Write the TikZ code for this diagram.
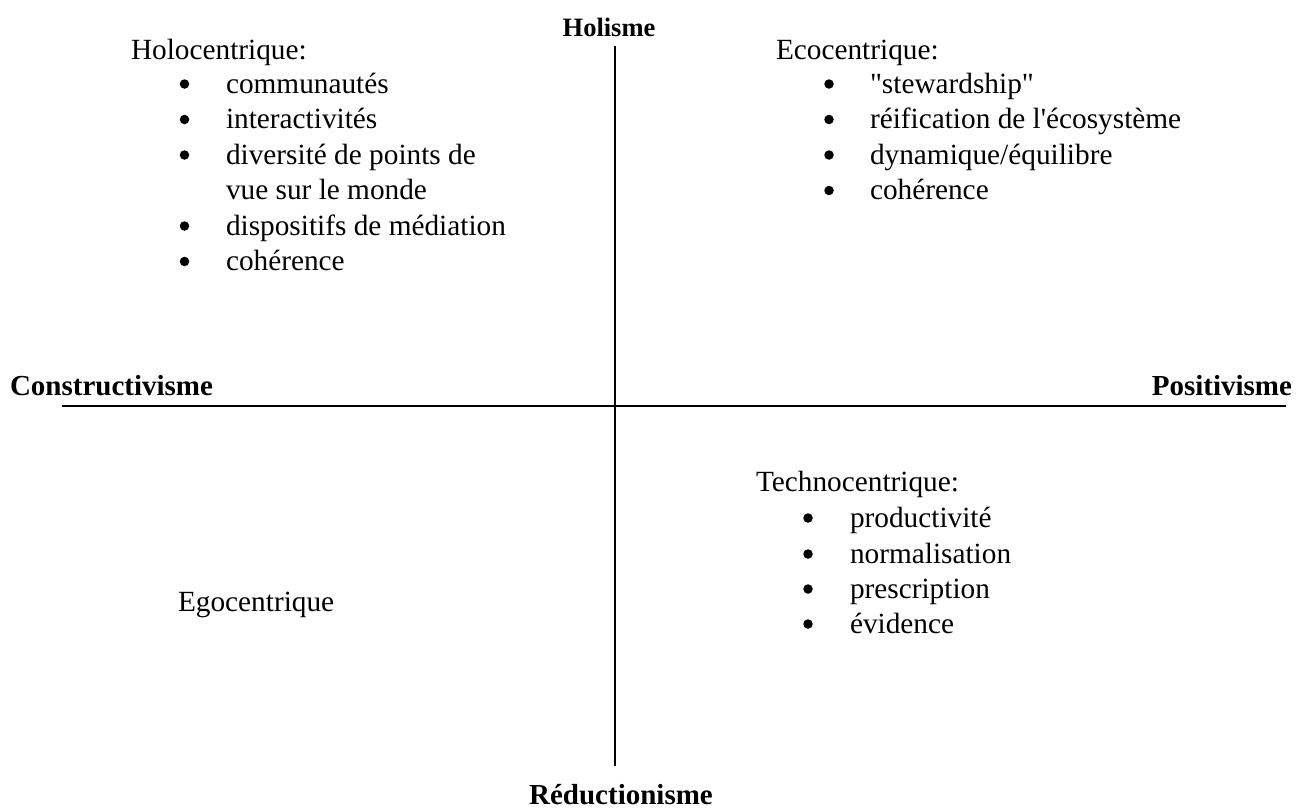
\documentclass[tikz,border=0pt]{standalone}
\usepackage{fontspec}
\setmainfont{Liberation Serif}[Ligatures=TeXOff]
\begin{document}
\begin{tikzpicture}[x=1pt,y=-1pt,
  txt/.style={inner sep=0pt,outer sep=0pt,anchor=base west,font=\fontsize{29.3}{35}\selectfont},
  bul/.style={circle,fill=black,draw=none,inner sep=0pt,minimum size=9.5pt},
  axislabel/.style={inner sep=0pt,outer sep=0pt,font=\bfseries\fontsize{29}{35}\selectfont},
  axisline/.style={draw=black,line width=1.7pt}]
\useasboundingbox (0,0) rectangle (1297,809);
% axes
\coordinate (vtop) at (615,46);
\coordinate (vbot) at (615,766);
\coordinate (hleft) at (62,406);
\coordinate (hright) at (1286,406);
\draw[axisline,line width=2pt] (hleft) -- (hright);
\draw[axisline] (vtop) -- (vbot);
% axis labels
\node[axislabel,anchor=base,font=\bfseries\fontsize{26.5}{32}\selectfont] (holisme) at (609,36) {Holisme};
\node[axislabel,anchor=base] (reduc) at (621,804) {Réductionisme};
\node[axislabel,anchor=base west] (constr) at (10,395) {Constructivisme};
\node[axislabel,anchor=base east] (posit) at (1292,395) {Positivisme};
% Holocentrique
\node[txt] (holo) at (131,59) {Holocentrique:};
\node[bul] (hb1) at (184.5,84) {};
\node[txt] (ht1) at (226,93) {communautés};
\node[bul] (hb2) at (184.5,119.5) {};
\node[txt] (ht2) at (226,128.5) {interactivités};
\node[bul] (hb3) at (184.5,155) {};
\node[txt] (ht3) at (226,164) {diversité de points de};
\node[txt] (ht3b) at (226,199.5) {vue sur le monde};
\node[bul] (hb4) at (184.5,226) {};
\node[txt] (ht4) at (226,235) {dispositifs de médiation};
\node[bul] (hb5) at (184.5,261.5) {};
\node[txt] (ht5) at (226,270.5) {cohérence};
% Ecocentrique
\node[txt] (eco) at (776,59) {Ecocentrique:};
\node[bul] (eb1) at (829,84) {};
\node[txt] (et1) at (870,93) {"stewardship"};
\node[bul] (eb2) at (829,119.5) {};
\node[txt] (et2) at (870,128.5) {réification de l'écosystème};
\node[bul] (eb3) at (829,155) {};
\node[txt] (et3) at (870,164) {dynamique/équilibre};
\node[bul] (eb4) at (829,190.5) {};
\node[txt] (et4) at (870,199.5) {cohérence};
% Technocentrique
\node[txt] (techno) at (756,491) {Technocentrique:};
\node[bul] (tb1) at (808,518) {};
\node[txt] (tt1) at (850,527) {productivité};
\node[bul] (tb2) at (808,554) {};
\node[txt] (tt2) at (850,563) {normalisation};
\node[bul] (tb3) at (808,589) {};
\node[txt] (tt3) at (850,598) {prescription};
\node[bul] (tb4) at (808,624) {};
\node[txt] (tt4) at (850,633) {évidence};
% Egocentrique
\node[txt] (ego) at (178,611) {Egocentrique};
\end{tikzpicture}
\end{document}
